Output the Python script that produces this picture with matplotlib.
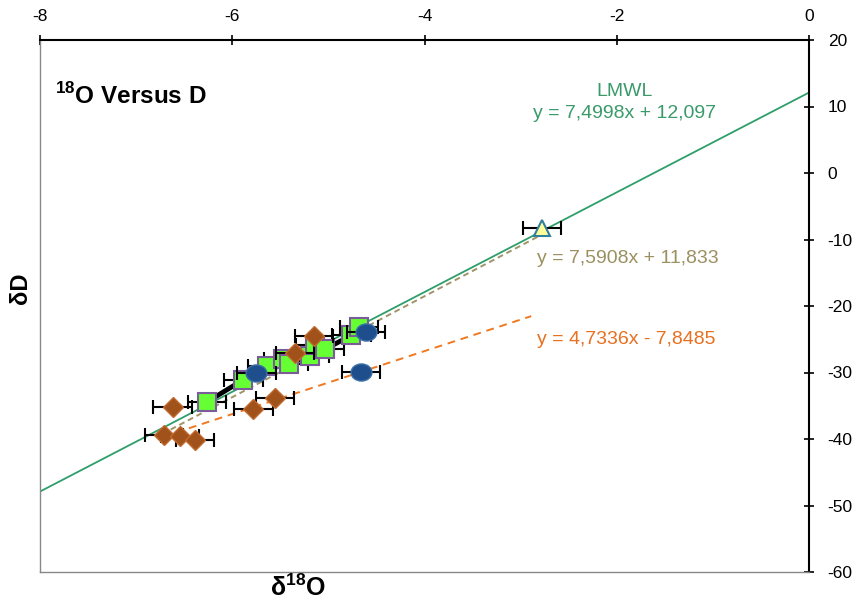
import matplotlib
matplotlib.use("Agg")
import matplotlib.pyplot as plt
import numpy as np
from matplotlib.path import Path
from matplotlib.transforms import Affine2D

plt.rcParams['font.family'] = ['Liberation Sans', 'DejaVu Sans']
plt.rcParams['axes.unicode_minus'] = False
plt.rcParams['mathtext.fontset'] = 'custom'
plt.rcParams['mathtext.rm'] = 'Liberation Sans'
plt.rcParams['mathtext.bf'] = 'Liberation Sans:bold'

# Data
sq_x = [-6.26, -5.885, -5.64, -5.47, -5.41, -5.19, -5.14, -5.035, -4.76, -4.68]
sq_y = [-34.4, -31.1, -29.0, -27.9, -28.7, -27.5, -25.8, -26.5, -24.4, -23.1]
ci_x = [-5.75, -4.61, -4.66]
ci_y = [-30.0, -23.9, -29.9]
di_x = [-6.62, -5.555, -5.78, -6.71, -6.545, -6.39, -5.15, -5.35]
di_y = [-35.2, -33.8, -35.5, -39.4, -39.6, -40.2, -24.5, -27.1]
tr_x = [-2.78]
tr_y = [-8.3]
xerr = 0.2

lmwl = (7.4998, 12.097)
fit1 = (7.5908, 11.833)
fit2 = (4.7336, -7.8485)

fig = plt.figure(figsize=(8.61, 6.03), dpi=100)
ax = fig.add_axes([40/861, 1-572/603, (809-40)/861, (572-40)/603])
ax.set_xlim(-8, 0)
ax.set_ylim(-60, 20)

# lines
xl = np.array([-8, 0])
ax.plot(xl, lmwl[0]*xl + lmwl[1], color='#2e9e6a', lw=1.3, zorder=2)
x1 = np.array([-6.73, -2.78])
ax.plot(x1, fit1[0]*x1 + fit1[1], color='#a09468', lw=1.4, ls=(0, (3, 2)), zorder=2)
x2 = np.array([-6.72, -2.89])
ax.plot(x2, fit2[0]*x2 + fit2[1], color='#f07820', lw=1.4, ls=(0, (4, 3)), zorder=2)

# black connecting line for squares
order = np.argsort(sq_x)
ax.plot(np.array(sq_x)[order], np.array(sq_y)[order], color='black', lw=3.5, zorder=3)

ekw = dict(ecolor='black', elinewidth=1.5, capsize=5, capthick=1.5, ls='none')
ax.errorbar(di_x, di_y, xerr=xerr, marker='D', ms=10, mfc='#a0521a', mec='#c06a30', zorder=5, **ekw)
ax.errorbar(sq_x, sq_y, xerr=xerr, marker='s', ms=13.5, mfc='#66ff33', mec='#7a5c9a', mew=1.5, zorder=4, **ekw)
ell = Path.unit_circle().transformed(Affine2D().scale(1.0, 0.82))
ax.errorbar(ci_x, ci_y, xerr=xerr, marker=ell, ms=15, mfc='#1f4e8c', mec='#3d6fa8', zorder=6, **ekw)
ax.errorbar(tr_x, tr_y, xerr=xerr, marker='^', ms=12, mfc='#ffff99', mec='#2f7fa0', mew=1.5, zorder=6, **ekw)

# spines & ticks
ax.xaxis.tick_top()
ax.yaxis.tick_right()
ax.set_xticks([-8, -6, -4, -2, 0])
ax.set_yticks(range(-60, 21, 10))
ax.tick_params(axis='both', direction='inout', length=7, width=1.2, labelsize=12.5)
ax.tick_params(axis='x', pad=8)
ax.tick_params(axis='y', pad=10)
for s in ['top', 'right']:
    ax.spines[s].set_linewidth(1.5)
    ax.spines[s].set_color('black')
for s in ['left', 'bottom']:
    ax.spines[s].set_linewidth(1.0)
    ax.spines[s].set_color('#888888')

# texts
ax.text(-7.84, 11.6, r'$^{\mathbf{18}}$O Versus D', fontsize=17.5, fontweight='bold', va='center', ha='left')
ax.text(-1.92, 12.2, 'LMWL', color='#3a9a6a', fontsize=14, ha='center', va='center')
ax.text(-1.92, 9.0, 'y = 7,4998x + 12,097', color='#3a9a6a', fontsize=14, ha='center', va='center')
ax.text(-1.89, -12.9, 'y = 7,5908x + 11,833', color='#9a9060', fontsize=14, ha='center', va='center')
ax.text(-1.90, -25.1, 'y = 4,7336x - 7,8485', color='#e87020', fontsize=14, ha='center', va='center')

fig.text(20/861, 1-288/603, 'δD', rotation=90, fontsize=17, fontweight='bold', ha='center', va='center')
fig.text(298/861, 1-588/603, r'δ$^{\mathbf{18}}$O', fontsize=18, fontweight='bold', ha='center', va='center')

fig.savefig('out.png', dpi=100)
